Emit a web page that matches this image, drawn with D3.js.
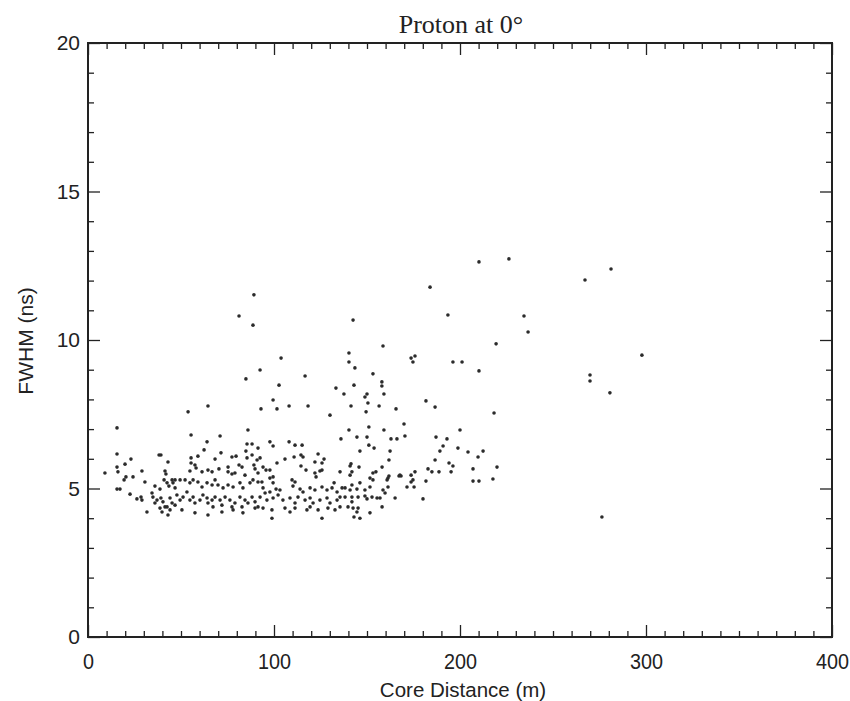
<!DOCTYPE html>
<html>
<head>
<meta charset="utf-8">
<script src="https://cdn.jsdelivr.net/npm/d3@7"></script>
<style>
  body { margin: 0; background: #fff; }
  svg { display: block; }
  .tick line { stroke: #222; stroke-width: 1.3; }
  .domain { display: none; }
</style>
</head>
<body>
<svg id="chart" width="850" height="701"></svg>
<script>
const chartTitle = "Proton at 0°";
const xLabel = "Core Distance (m)";
const yLabel = "FWHM (ns)";
const xMajorTicks = [0, 100, 200, 300, 400];
const yMajorTicks = [0, 5, 10, 15, 20];
const xMinorStep = 10;
const yMinorStep = 1;

// [core distance (m), FWHM (ns)]
const protonHits = [
  [15.6,7.04],[81.2,10.81],[89.2,11.52],[88.7,10.5],[142.5,10.67],[158.6,9.8],[103.8,9.39],[140.3,9.56],[140.3,9.26],[143.5,9.06],
  [116.7,8.79],[153.2,8.86],[102.7,8.48],[143,8.48],[158,8.59],[158,8.45],[133.3,8.38],[137.6,8.18],[150,8.18],[148.9,8.08],
  [150.5,7.88],[149.5,7.58],[159.1,8.18],[99.5,7.98],[101.6,7.68],[108.1,7.78],[118.3,7.78],[141.4,7.78],[156.5,7.78],[165.6,7.68],
  [130.1,7.47],[151,7.07],[140.3,6.97],[159.1,6.97],[136,6.67],[144.6,6.73],[150,6.73],[162.9,6.67],[166.1,6.67],[97.8,6.57],
  [108.1,6.57],[111.3,6.46],[115.1,6.46],[99.5,6.43],[151,6.46],[153.8,6.36],[146.2,6.26],[162.4,6.26],[105.9,5.99],[110.8,6.06],
  [114.5,6.13],[115.6,6.06],[123.7,6.16],[126.9,5.99],[122,5.89],[125.8,5.86],[114.5,5.76],[97.8,5.62],[161.8,5.96],[141.4,5.83],
  [140.9,5.76],[145.7,5.72],[158.1,5.72],[117.2,5.62],[122,5.52],[124.7,5.59],[125.8,5.62],[135.5,5.56],[153.2,5.52],[154.8,5.56],
  [161.8,5.42],[161.3,5.35],[167.2,5.42],[168.3,5.42],[97.8,5.35],[99.5,5.39],[122.6,5.39],[132.3,5.19],[93.5,5.22],[99.5,5.19],
  [94.1,5.02],[109.7,5.29],[111.3,5.22],[110.2,5.08],[103.2,4.95],[101.1,4.98],[97.8,4.88],[95.2,4.85],
  [114,4.98],[115.6,4.88],[119.4,5.02],[122,4.95],[125.8,5.05],[128.5,4.95],[131.2,5.02],[133.9,4.88],[136.6,5.02],
  [92.5,4.71],[96.2,4.61],[99.5,4.68],[102.2,4.78],[104.8,4.61],[108.6,4.68],[111.3,4.51],[112.9,4.71],[116.7,4.61],[119.4,4.68],
  [121,4.51],[124.7,4.61],[128.5,4.68],[130.1,4.51],[133.9,4.61],[135.5,4.71],
  [94.1,4.34],[98.9,4.28],[105.9,4.34],[108.6,4.21],[111.3,4.34],[117.7,4.28],[119.4,4.38],[123.7,4.28],[129,4.34],[132.8,4.28],
  [135.5,4.38],[98.9,4.0],[125.8,4.0],[84.9,8.69],[92.5,8.99],[93,7.68],
  [141.9,5.56],[140.9,5.45],[151.6,5.35],[153.2,5.29],[160.8,5.29],[138.2,5.02],[141.9,5.12],[140.9,4.95],[144.6,4.98],[146.2,5.19],
  [148.9,4.95],[151.6,5.05],[152.7,4.71],[155.4,4.68],[157,4.68],[158.6,4.95],[159.7,4.85],[161.3,5.05],[165.1,4.68],[138.2,4.71],
  [141.9,4.71],[145.2,4.71],[148.9,4.75],[150,4.65],[141.9,4.55],[139.8,4.38],[142.5,4.34],[145.2,4.34],[144.6,4.21],[151.6,4.18],
  [158.1,4.38],[143,4.04],[146.2,4.0],
  [210.2,12.63],[226.3,12.73],[281.2,12.39],[267.2,12.02],[183.9,11.78],[193.5,10.84],[234.4,10.81],[236.6,10.27],[219.4,9.87],[297.8,9.49],
  [173.7,9.39],[175.8,9.46],[174.7,9.26],[196.2,9.26],[201.1,9.26],[210.2,8.96],[269.9,8.82],[269.9,8.62],[280.6,8.22],[181.7,7.95],
  [186.6,7.74],[218.3,7.54],[169.9,7.17],[170.4,6.77],[200,6.97],[187.1,6.73],[193,6.67],[190.9,6.43],[189.2,6.26],[198.9,6.36],
  [204.3,6.23],[212.4,6.26],[209.7,6.06],[186.6,5.96],[194.1,5.86],[196.2,5.76],[182.8,5.66],[184.9,5.56],[188.7,5.56],[195.2,5.56],
  [207,5.66],[219.9,5.72],[217.7,5.32],[207,5.25],[210.2,5.25],[173.7,5.45],[175.8,5.56],[174.7,5.29],[173.7,5.22],[167.7,5.45],
  [181.7,5.25],[171.5,5.05],[175.3,5.05],[180.1,4.65],[276.3,4.04],
  [64.5,7.78],[53.8,7.58],[55.4,6.8],[71,6.77],[64,6.57],[86,6.97],[85.5,6.5],[88.2,6.5],[84.9,6.26],[88.2,6.13],
  [91.4,6.36],[62.4,6.3],[71.5,6.2],[77.4,6.06],[79.6,6.09],[68.3,5.99],[59.1,6.09],[55.4,6.03],[55.4,5.86],[58.1,5.69],
  [54.8,5.59],[64.5,5.62],[75.3,5.56],[77.4,5.49],[79,5.52],[82.8,5.72],[84.4,5.45],[89.2,5.79],[90.9,5.96],[89.8,5.66],
  [91.4,5.52],[57.5,5.79],[61.3,5.56],[66.7,5.56],[70.4,5.66],[75.3,5.72],[81.2,5.79],[85.5,6.03],[92.5,6.03],[94.1,5.72],
  [95.7,5.62],[101.6,5.86],
  [46.8,5.29],[49.5,5.29],[52.2,5.29],[54.8,5.19],[56.5,5.29],[59.1,5.22],[61.3,5.05],[64,5.19],[66.7,5.12],[68.3,5.29],
  [69.9,5.12],[72.6,5.02],[75.3,5.12],[78,5.05],[81.7,5.19],[83.3,5.02],[87.1,5.19],[88.7,5.29],[91.4,5.22],
  [47.8,4.78],[49.5,4.61],[51.1,4.71],[53.2,4.88],[54.8,4.61],[56.5,4.71],[57.5,4.51],[60.2,4.61],[61.8,4.78],[64,4.68],
  [64.5,4.51],[66.7,4.61],[67.2,4.38],[68.3,4.71],[71,4.61],[72,4.44],[73.7,4.71],[76.3,4.61],[77.4,4.38],[79,4.51],
  [81.7,4.71],[82.8,4.38],[84.4,4.61],[86,4.51],[88.2,4.71],[89.8,4.55],[91.4,4.38],
  [50.5,4.28],[57.5,4.18],[64.5,4.11],[72,4.21],[78,4.28],[83.3,4.18],[89.8,4.34],
  [15.6,6.16],[23.1,5.99],[38.2,6.13],[39.2,6.13],[43,5.89],[15.6,5.72],[16.1,5.56],[19.9,5.82],[20.4,5.39],[19.4,5.29],
  [24.2,5.39],[29,5.59],[9.1,5.52],[30.6,5.22],[41.4,5.59],[41.9,5.49],[40.9,5.29],[42.5,5.19],[43.5,5.08],[45.2,5.29],
  [45.7,5.19],[15.6,4.98],[17.2,4.98],[22.6,4.81],[26.3,4.65],[28.5,4.71],[29,4.61],[34.4,4.85],[34.9,4.71],[37.1,4.61],
  [39.2,4.68],[40.3,4.55],[41.4,4.38],[38.7,4.34],[44.1,4.68],[45.2,4.51],[42.5,4.38],[31.7,4.21],[36,4.51],[36,5.08],
  [38.7,4.98],[46.8,5.02],[44.1,4.28],[46.8,4.44],[43,4.11],[39.8,4.21]
];

const svg = d3.select("#chart");
const plot = { left: 88, right: 832, top: 43, bottom: 637 };

const x = d3.scaleLinear().domain([0, 400]).range([plot.left, plot.right]);
const y = d3.scaleLinear().domain([0, 20]).range([plot.bottom, plot.top]);

const xMinor = d3.range(0, 401, xMinorStep).filter(v => !xMajorTicks.includes(v));
const yMinor = d3.range(0, 21, yMinorStep).filter(v => !yMajorTicks.includes(v));

// ticks point inward on all four sides
function addAxis(axis, transform) {
  svg.append("g").attr("transform", transform).call(axis);
}
addAxis(d3.axisBottom(x).tickValues(xMinor).tickSize(-6).tickFormat(""), `translate(0,${plot.bottom})`);
addAxis(d3.axisTop(x).tickValues(xMinor).tickSize(-6).tickFormat(""), `translate(0,${plot.top})`);
addAxis(d3.axisTop(x).tickValues(xMajorTicks).tickSize(-12).tickFormat(""), `translate(0,${plot.top})`);
addAxis(d3.axisLeft(y).tickValues(yMinor).tickSize(-6).tickFormat(""), `translate(${plot.left},0)`);
addAxis(d3.axisRight(y).tickValues(yMinor).tickSize(-6).tickFormat(""), `translate(${plot.right},0)`);
addAxis(d3.axisRight(y).tickValues(yMajorTicks).tickSize(-12).tickFormat(""), `translate(${plot.right},0)`);

const xAxis = svg.append("g").attr("transform", `translate(0,${plot.bottom})`)
  .call(d3.axisBottom(x).tickValues(xMajorTicks).tickSize(-12).tickPadding(16));
xAxis.selectAll("text")
  .attr("transform", "scale(0.9,1)")
  .style("font-family", "'Liberation Sans', Arial, sans-serif")
  .style("font-size", "22px").attr("fill", "#222");

const yAxis = svg.append("g").attr("transform", `translate(${plot.left},0)`)
  .call(d3.axisLeft(y).tickValues(yMajorTicks).tickSize(-12).tickPadding(8));
yAxis.selectAll("text")
  .style("font-family", "'Liberation Sans', Arial, sans-serif")
  .style("font-size", "21px").attr("fill", "#222");

// frame
svg.append("rect")
  .attr("x", plot.left).attr("y", plot.top)
  .attr("width", plot.right - plot.left).attr("height", plot.bottom - plot.top)
  .attr("fill", "none").attr("stroke", "#222").attr("stroke-width", 2);

svg.append("g").selectAll("circle")
  .data(protonHits)
  .join("circle")
  .attr("cx", d => x(d[0]))
  .attr("cy", d => y(d[1]))
  .attr("r", 1.8)
  .attr("fill", "#2b2b2b");

svg.append("text")
  .attr("x", 461).attr("y", 33)
  .attr("text-anchor", "middle")
  .style("font-family", "'Liberation Serif', 'DejaVu Serif', serif")
  .style("font-size", "26px").attr("fill", "#222")
  .text(chartTitle);

svg.append("text")
  .attr("x", 463).attr("y", 697)
  .attr("text-anchor", "middle")
  .style("font-family", "'Liberation Sans', Arial, sans-serif")
  .style("font-size", "20.5px").attr("fill", "#222")
  .text(xLabel);

svg.append("text")
  .attr("transform", "translate(33,341) rotate(-90)")
  .attr("text-anchor", "middle")
  .style("font-family", "'Liberation Sans', Arial, sans-serif")
  .style("font-size", "21px").attr("fill", "#222")
  .text(yLabel);
</script>
</body>
</html>
